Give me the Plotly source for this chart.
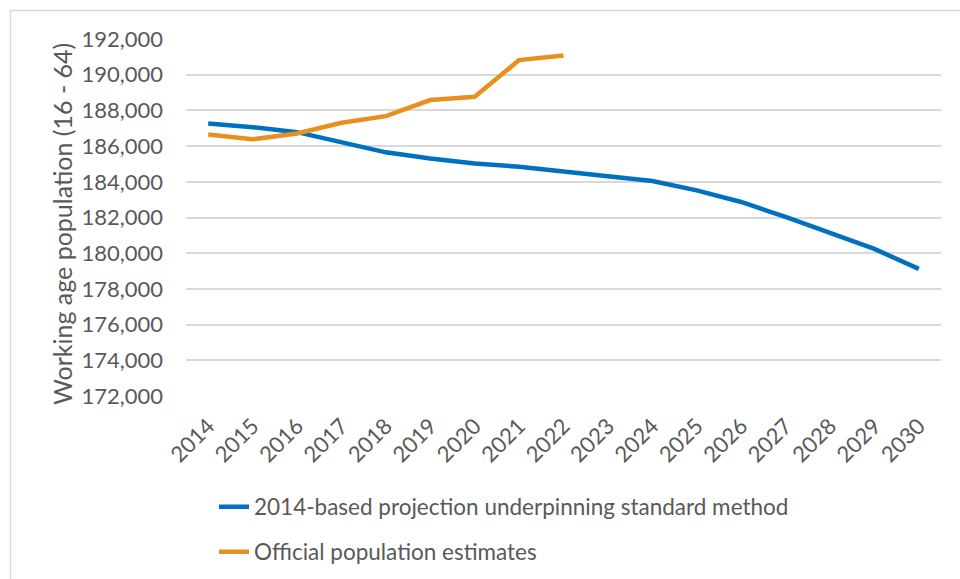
import plotly.graph_objects as go

years = [str(y) for y in range(2014, 2031)]
projection_2014 = [187270, 187060, 186780, 186240, 185650, 185310, 185030, 184840, 184560,
                   184280, 184040, 183520, 182870, 182030, 181160, 180240, 179120]
official_years = [str(y) for y in range(2014, 2023)]
official_estimates = [186650, 186380, 186710, 187310, 187680, 188580, 188760, 190820, 191070]

y_ticks = list(range(172000, 192001, 2000))
y_tick_labels = [f"{v:,}" for v in y_ticks]
y_title = "Working age population (16 - 64)"

FONT = "Lato, 'Open Sans', sans-serif"
TXT = "#595959"

fig = go.Figure()
fig.add_trace(go.Scatter(
    x=years, y=projection_2014, mode="lines",
    name="2014-based projection underpinning standard method",
    line=dict(color="#0070C0", width=4.5), legend="legend"))
fig.add_trace(go.Scatter(
    x=official_years, y=official_estimates, mode="lines",
    name="Official population estimates",
    line=dict(color="#E8901E", width=4.5), legend="legend2"))

L, R, T, B = 186, 19, 39, 183
W, H = 960, 579
pw, ph = W - L - R, H - T - B

def px(xp):
    return (xp - L) / pw

def py(yp):
    return (H - B - yp) / ph

fig.update_layout(
    width=W, height=H,
    margin=dict(l=L, r=R, t=T, b=B, autoexpand=False),
    paper_bgcolor="white", plot_bgcolor="white",
    font=dict(family=FONT, color=TXT, size=22),
    xaxis=dict(type="category", categoryorder="array", categoryarray=years,
               range=[-0.5, len(years) - 0.5], tickangle=-45, automargin=False,
               showgrid=False, zeroline=False, showline=False, ticks="",
               ticklabelstandoff=12,
               tickfont=dict(size=22, color=TXT)),
    yaxis=dict(range=[172000, 192000], tickvals=y_ticks, ticktext=y_tick_labels,
               automargin=False,
               showgrid=True, gridcolor="#D9D9D9", gridwidth=1.5, zeroline=False,
               showline=False, ticks="", ticklabelstandoff=22,
               tickfont=dict(size=22, color=TXT)),
    legend=dict(x=px(214), y=py(507), xanchor="left", yanchor="middle",
                bgcolor="rgba(0,0,0,0)", font=dict(size=22.5, color=TXT),
                itemwidth=30),
    legend2=dict(x=px(214), y=py(552), xanchor="left", yanchor="middle",
                 bgcolor="rgba(0,0,0,0)", font=dict(size=22.5, color=TXT),
                 itemwidth=30),
    showlegend=True,
)

fig.add_annotation(text=y_title, xref="paper", yref="paper",
                   x=px(62), y=py(224), xanchor="center", yanchor="middle",
                   textangle=-90, showarrow=False,
                   font=dict(size=25, color=TXT))

fig.add_shape(type="rect", xref="paper", yref="paper",
              x0=px(10.5), x1=px(975), y0=py(600), y1=py(10.5),
              line=dict(color="#D9D9D9", width=1.5), fillcolor="rgba(0,0,0,0)",
              layer="below")

fig.write_html("out.html")
